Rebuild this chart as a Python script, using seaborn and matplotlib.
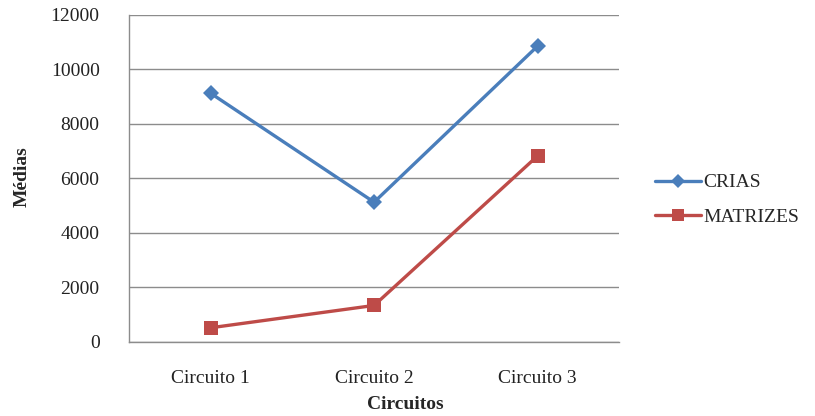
import matplotlib
matplotlib.use("Agg")
import matplotlib.pyplot as plt
import seaborn as sns
import pandas as pd

circuitos = ["Circuito 1", "Circuito 2", "Circuito 3"]
crias = [9130, 5130, 10860]
matrizes = [520, 1340, 6830]
series_names = ["CRIAS", "MATRIZES"]
yticks = [0, 2000, 4000, 6000, 8000, 10000, 12000]

df = pd.DataFrame({
    "Circuito": circuitos * 2,
    "Média": crias + matrizes,
    "Série": [series_names[0]] * 3 + [series_names[1]] * 3,
})

sns.set_theme(style="white")
plt.rcParams["font.family"] = ["Liberation Serif", "DejaVu Serif"]

fig = plt.figure(figsize=(8.15, 4.16), dpi=100)
ax = fig.add_axes([0.158, 0.178, 0.602, 0.786])

palette = {"CRIAS": "#4A7EBB", "MATRIZES": "#BE4B48"}
markers = {"CRIAS": "D", "MATRIZES": "s"}
sizes = {"CRIAS": 8, "MATRIZES": 10}

for name in series_names:
    sub = df[df["Série"] == name]
    sns.lineplot(data=sub, x="Circuito", y="Média", ax=ax, color=palette[name],
                 marker=markers[name], markersize=sizes[name], markeredgewidth=0,
                 linewidth=2.4, label=name, sort=False)

ax.set_xlim(-0.5, 2.5)
ax.set_ylim(0, 12000)
ax.set_yticks(yticks)
ax.set_yticklabels([str(v) for v in yticks])
ax.yaxis.grid(True, color="#8c8c8c", linewidth=1.0)
ax.set_axisbelow(True)
for side in ["top", "right"]:
    ax.spines[side].set_visible(False)
for side in ["left", "bottom"]:
    ax.spines[side].set_color("#8c8c8c")
    ax.spines[side].set_linewidth(1.0)
ax.tick_params(axis="both", length=0, labelsize=14, colors="#222222")
ax.tick_params(axis="y", pad=21)
ax.tick_params(axis="x", pad=20)
ax.set_xlabel("")
ax.set_ylabel("")
fig.text(0.497, 0.028, "Circuitos", ha="center", va="center",
         fontsize=14, fontweight="bold")
fig.text(0.027, 0.575, "Médias", ha="center", va="center", rotation=90,
         fontsize=14, fontweight="bold")

ax.legend(loc="center left", bbox_to_anchor=(0.782, 0.52), bbox_transform=fig.transFigure,
          frameon=False, fontsize=14, handlelength=2.4, handletextpad=0.1,
          labelspacing=0.85, markerscale=0.9)

fig.savefig("out.png", dpi=100)
